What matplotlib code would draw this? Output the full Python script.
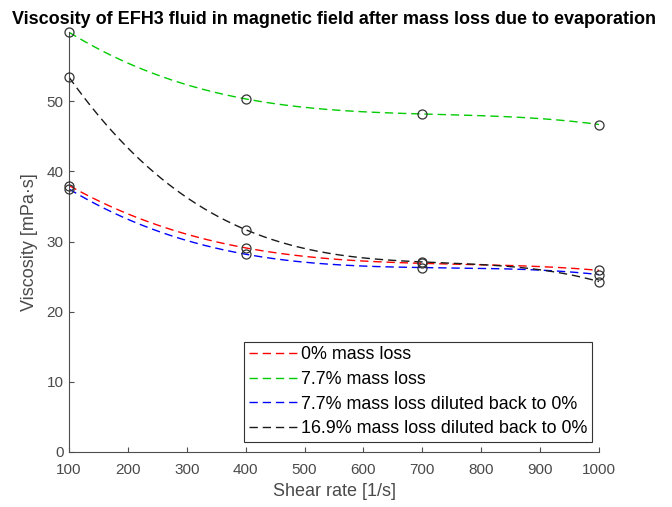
import numpy as np
import matplotlib
matplotlib.use("Agg")
import matplotlib.pyplot as plt

# --- dati ---
shear_rate = [100, 400, 700, 1000]
visc_0 = [38.0, 29.1, 26.9, 25.9]
visc_77 = [59.85, 50.35, 48.2, 46.7]
visc_77_dil = [37.5, 28.2, 26.3, 25.3]
visc_169_dil = [53.45, 31.7, 27.1, 24.3]

etichette = ["0% mass loss", "7.7% mass loss",
             "7.7% mass loss diluted back to 0%",
             "16.9% mass loss diluted back to 0%"]
colori = ["#ff0000", "#00cc00", "#0000ff", "#1a1a1a"]

plt.rcParams['font.family'] = ['Liberation Sans', 'DejaVu Sans']

fig = plt.figure(figsize=(6.72, 5.07), dpi=100)
ax = fig.add_axes([0.1027, 0.1085, 0.7887, 0.8285])

serie = [visc_0, visc_77, visc_77_dil, visc_169_dil]
x_fine = np.linspace(shear_rate[0], shear_rate[-1], 300)
for y, col, lab in zip(serie, colori, etichette):
    # spline cubica (4 punti -> polinomio di 3 grado, come spline not-a-knot)
    coeff = np.polyfit(shear_rate, y, 3)
    ax.plot(x_fine, np.polyval(coeff, x_fine), color=col, lw=1.0,
            dashes=(6, 3.5), label=lab)
for y in serie:
    ax.plot(shear_rate, y, 'o', mfc='none', mec='#333333', mew=0.9, ms=6.5,
            clip_on=False, zorder=3)

ax.set_xlim(100, 1000)
ax.set_ylim(0, 59.9)
ax.set_xticks(range(100, 1001, 100))
ax.set_yticks(range(0, 51, 10))
for s in ['top', 'right']:
    ax.spines[s].set_visible(False)
for s in ['left', 'bottom']:
    ax.spines[s].set_color('#4d4d4d')
    ax.spines[s].set_linewidth(0.8)
ax.tick_params(direction='in', length=3.5, width=0.8, color='#4d4d4d',
               labelcolor='#4a4a4a', labelsize=11)
ax.tick_params(axis='x', pad=8)
ax.tick_params(axis='y', pad=4)

ax.set_xlabel("Shear rate [1/s]", fontsize=13, color='#4a4a4a', labelpad=4)
ax.set_ylabel("Viscosity [mPa·s]", fontsize=13, color='#4a4a4a', labelpad=6)
ax.set_title("Viscosity of EFH3 fluid in magnetic field after mass loss due to evaporation",
             fontsize=13, fontweight='bold', pad=6)

leg = ax.legend(loc='lower right', bbox_to_anchor=(0.987, 0.024),
                fontsize=12.9, handlelength=2.8, handletextpad=0.08,
                borderpad=0.27, labelspacing=0.42, fancybox=False,
                framealpha=1, edgecolor='#333333', borderaxespad=0)
leg.get_frame().set_linewidth(0.8)

fig.savefig("out.png", dpi=100)
